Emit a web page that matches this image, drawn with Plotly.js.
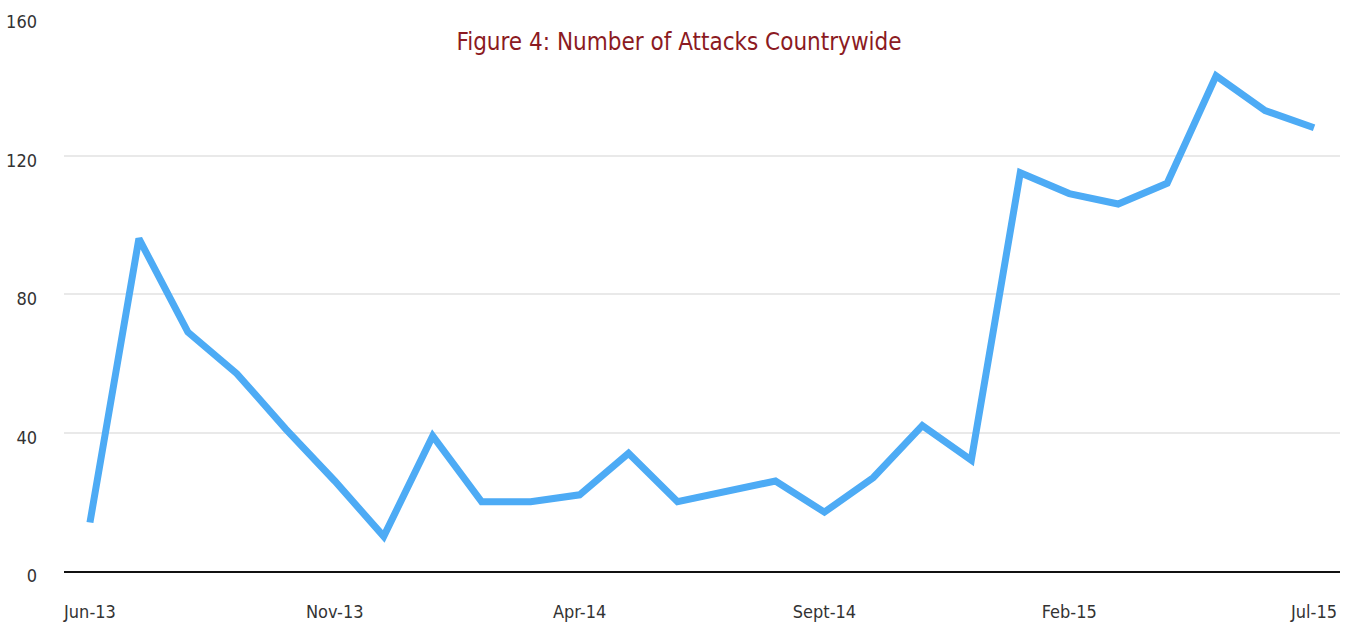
<!DOCTYPE html>
<html>
<head>
<meta charset="utf-8">
<script src="https://cdn.plot.ly/plotly-3.0.1.min.js"></script>
<style>html,body{margin:0;padding:0;background:#fff;}#chart{width:1351px;height:628px;}</style>
</head>
<body>
<div id="chart"></div>
<script>
const months = ["Jun-13","Jul-13","Aug-13","Sep-13","Oct-13","Nov-13","Dec-13",
  "Jan-14","Feb-14","Mar-14","Apr-14","May-14","Jun-14","Jul-14","Aug-14","Sept-14",
  "Oct-14","Nov-14","Dec-14","Jan-15","Feb-15","Mar-15","Apr-15","May-15","Jun-15","Jul-15"];
const attacks = [14, 96, 69, 57, 41, 26, 10, 39, 20, 20, 22, 34, 20, 23, 26, 17, 27, 42, 32, 115, 109, 106, 112, 143, 133, 128];
const xTicks = ["Jun-13","Nov-13","Apr-14","Sept-14","Feb-15","Jul-15"];
const yTicks = [0, 40, 80, 120, 160];

const fontFam = '"DejaVu Sans Condensed", "Liberation Sans Narrow", "Roboto", sans-serif';

Plotly.newPlot('chart', [{
  x: months,
  y: attacks,
  type: 'scatter',
  mode: 'lines',
  line: {color: '#4DABF5', width: 7},
  hoverinfo: 'x+y'
}], {
  width: 1351, height: 628,
  margin: {l: 64, r: 11, t: 17, b: 57},
  paper_bgcolor: '#fff', plot_bgcolor: '#fff',
  showlegend: false,
  title: {
    text: 'Figure 4: Number of Attacks Countrywide',
    font: {family: fontFam, size: 24, color: '#8B1A22'},
    x: 679/1351, xanchor: 'center', xref: 'container',
    y: 1 - 42/628, yanchor: 'middle', yref: 'container'
  },
  xaxis: {
    type: 'category',
    range: [-0.53, 25.53],
    tickvals: xTicks,
    ticktext: xTicks,
    showgrid: false,
    zeroline: false,
    showline: true, linecolor: '#111', linewidth: 2,
    ticks: '', ticklabelstandoff: 23,
    tickfont: {family: fontFam, size: 18, color: '#333'}
  },
  yaxis: {
    range: [0, 160],
    tickvals: yTicks,
    showgrid: true, gridcolor: '#e9e9e9', gridwidth: 2,
    zeroline: false,
    showline: false,
    ticks: '', ticklabelstandoff: 26, ticklabelshift: 5,
    tickfont: {family: fontFam, size: 18, color: '#333'}
  }
}, {displayModeBar: false, staticPlot: true});
</script>
</body>
</html>
